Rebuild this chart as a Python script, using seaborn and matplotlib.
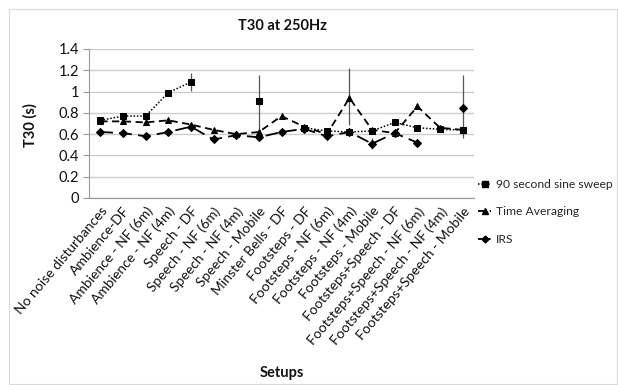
import numpy as np
import pandas as pd
import matplotlib
matplotlib.use("Agg")
import matplotlib.pyplot as plt
from matplotlib.lines import Line2D
from matplotlib.patches import Rectangle
from matplotlib.ticker import FuncFormatter, FixedLocator
import seaborn as sns

categories = [
    "No noise disturbances", "Ambience-DF", "Ambience - NF (6m)", "Ambience - NF (4m)",
    "Speech - DF", "Speech - NF (6m)", "Speech - NF (4m)", "Speech - Mobile",
    "Minster Bells - DF", "Footsteps - DF", "Footsteps - NF (6m)", "Footsteps - NF (4m)",
    "Footsteps - Mobile", "Footsteps+Speech - DF", "Footsteps+Speech - NF (6m)",
    "Footsteps+Speech - NF (4m)", "Footsteps+Speech - Mobile",
]
nan = np.nan
sweep = [0.73, 0.77, 0.77, 0.99, 1.09, nan, nan, 0.91, nan, 0.66, 0.63, 0.62, 0.63,
         0.71, 0.66, 0.645, 0.64]
time_avg = [0.72, 0.72, 0.71, 0.73, 0.69, 0.64, 0.60, 0.62, 0.77, 0.67, 0.60, 0.94,
            0.64, 0.61, 0.86, 0.66, 0.64]
irs = [0.62, 0.61, 0.58, 0.62, 0.67, 0.55, 0.59, 0.57, 0.62, 0.65, 0.58, 0.62, 0.51,
       0.61, 0.52, nan, 0.85]
# error bars: index -> (low, high)
err_sweep = {4: (1.01, 1.17), 7: (0.62, 1.16)}
err_ta = {11: (0.69, 1.22)}
err_irs = {12: (0.46, 0.56), 16: (0.56, 1.16)}
series_names = ["90 second sine sweep", "Time Averaging", "IRS"]
yticks = [0, 0.2, 0.4, 0.6, 0.8, 1.0, 1.2, 1.4]

sns.set_theme(style="white")
plt.rcParams['font.family'] = ['Lato', 'DejaVu Sans']

fig = plt.figure(figsize=(6.18, 3.85), dpi=100)
ax = fig.add_axes([89/618, 1-198/385, (474-89)/618, (198-49)/385])

styles = {
    "90 second sine sweep": dict(ls=(0, (1, 1.2)), marker="s", ms=4.5, lw=1.1),
    "Time Averaging": dict(ls=(0, (4, 2.5)), marker="^", ms=5, lw=1.3),
    "IRS": dict(ls=(0, (7, 3.5)), marker="D", ms=4, lw=1.3),
}
data = {"90 second sine sweep": sweep, "Time Averaging": time_avg, "IRS": irs}
errs = {"90 second sine sweep": err_sweep, "Time Averaging": err_ta, "IRS": err_irs}

x = np.arange(len(categories))
for name in series_names:
    vals = np.array(data[name], dtype=float)
    st = styles[name]
    seg_id = np.cumsum(np.isnan(vals))
    df = pd.DataFrame({"x": x, "y": vals, "seg": seg_id}).dropna()
    for s, sub in df.groupby("seg"):
        sns.lineplot(data=sub, x="x", y="y", ax=ax, color="black",
                     linestyle=st["ls"], linewidth=st["lw"], marker=st["marker"],
                     markersize=st["ms"], markeredgecolor="black", markerfacecolor="black",
                     estimator=None, sort=False, legend=False, zorder=3)
    for i, (lo, hi) in errs[name].items():
        ax.vlines(i, lo, hi, color="#555555", lw=0.9, zorder=2)

ax.set_xlim(-0.5, len(categories) - 0.5)
ax.set_ylim(0, 1.4)
ax.set_yticks(yticks)
ax.yaxis.set_major_formatter(FuncFormatter(lambda v, p: f"{v:g}"))
ax.set_xticks(x)
ax.set_xticklabels(categories, rotation=50, ha="right", rotation_mode="anchor",
                   fontsize=10, color="#111111")
ax.xaxis.set_minor_locator(FixedLocator(np.arange(-0.5, len(categories), 1.0)))
ax.tick_params(axis="x", which="major", length=0, pad=5)
ax.tick_params(axis="x", which="minor", length=5, width=0.8, color="#999999", direction="out")
ax.tick_params(axis="y", length=4, width=0.8, color="#999999", labelsize=10.5,
               labelcolor="#111111", pad=3, left=True)
ax.grid(axis="y", color="#cccccc", lw=1.0)
ax.grid(axis="x", visible=False)
ax.set_axisbelow(True)
for side in ["top", "right"]:
    ax.spines[side].set_visible(False)
for side in ["left", "bottom"]:
    ax.spines[side].set_color("#999999")
    ax.spines[side].set_linewidth(0.8)
ax.set_xlabel("")
ax.set_ylabel("")

fig.text(283/618, 1-26/385, "T30 at 250Hz", ha="center", va="center",
         fontsize=10.5, fontweight="bold", color="#111111")
fig.text(30/618, 1-125/385, "T30 (s)", ha="center", va="center", rotation=90,
         fontsize=10.5, fontweight="bold", color="#111111")
fig.text(282/618, 1-373/385, "Setups", ha="center", va="center",
         fontsize=10.5, fontweight="bold", color="#111111")

handles = [Line2D([0], [0], color="black", linestyle=styles[n]["ls"], lw=styles[n]["lw"],
                  marker=styles[n]["marker"], markersize=styles[n]["ms"] - 0.5)
           for n in series_names]
fig.legend(handles, series_names, loc="center left",
           bbox_to_anchor=(478/618, 1-212/385), frameon=False, fontsize=8.7,
           handlelength=1.1, handletextpad=0.35, labelspacing=1.35, borderpad=0,
           borderaxespad=0)

fig.patches.append(Rectangle((9/618, 0.002), 1-9/618-0.002, 1-9/385-0.002,
                             transform=fig.transFigure, fill=False,
                             edgecolor="#d9d9d9", lw=0.8))
fig.savefig("out.png", dpi=100)
